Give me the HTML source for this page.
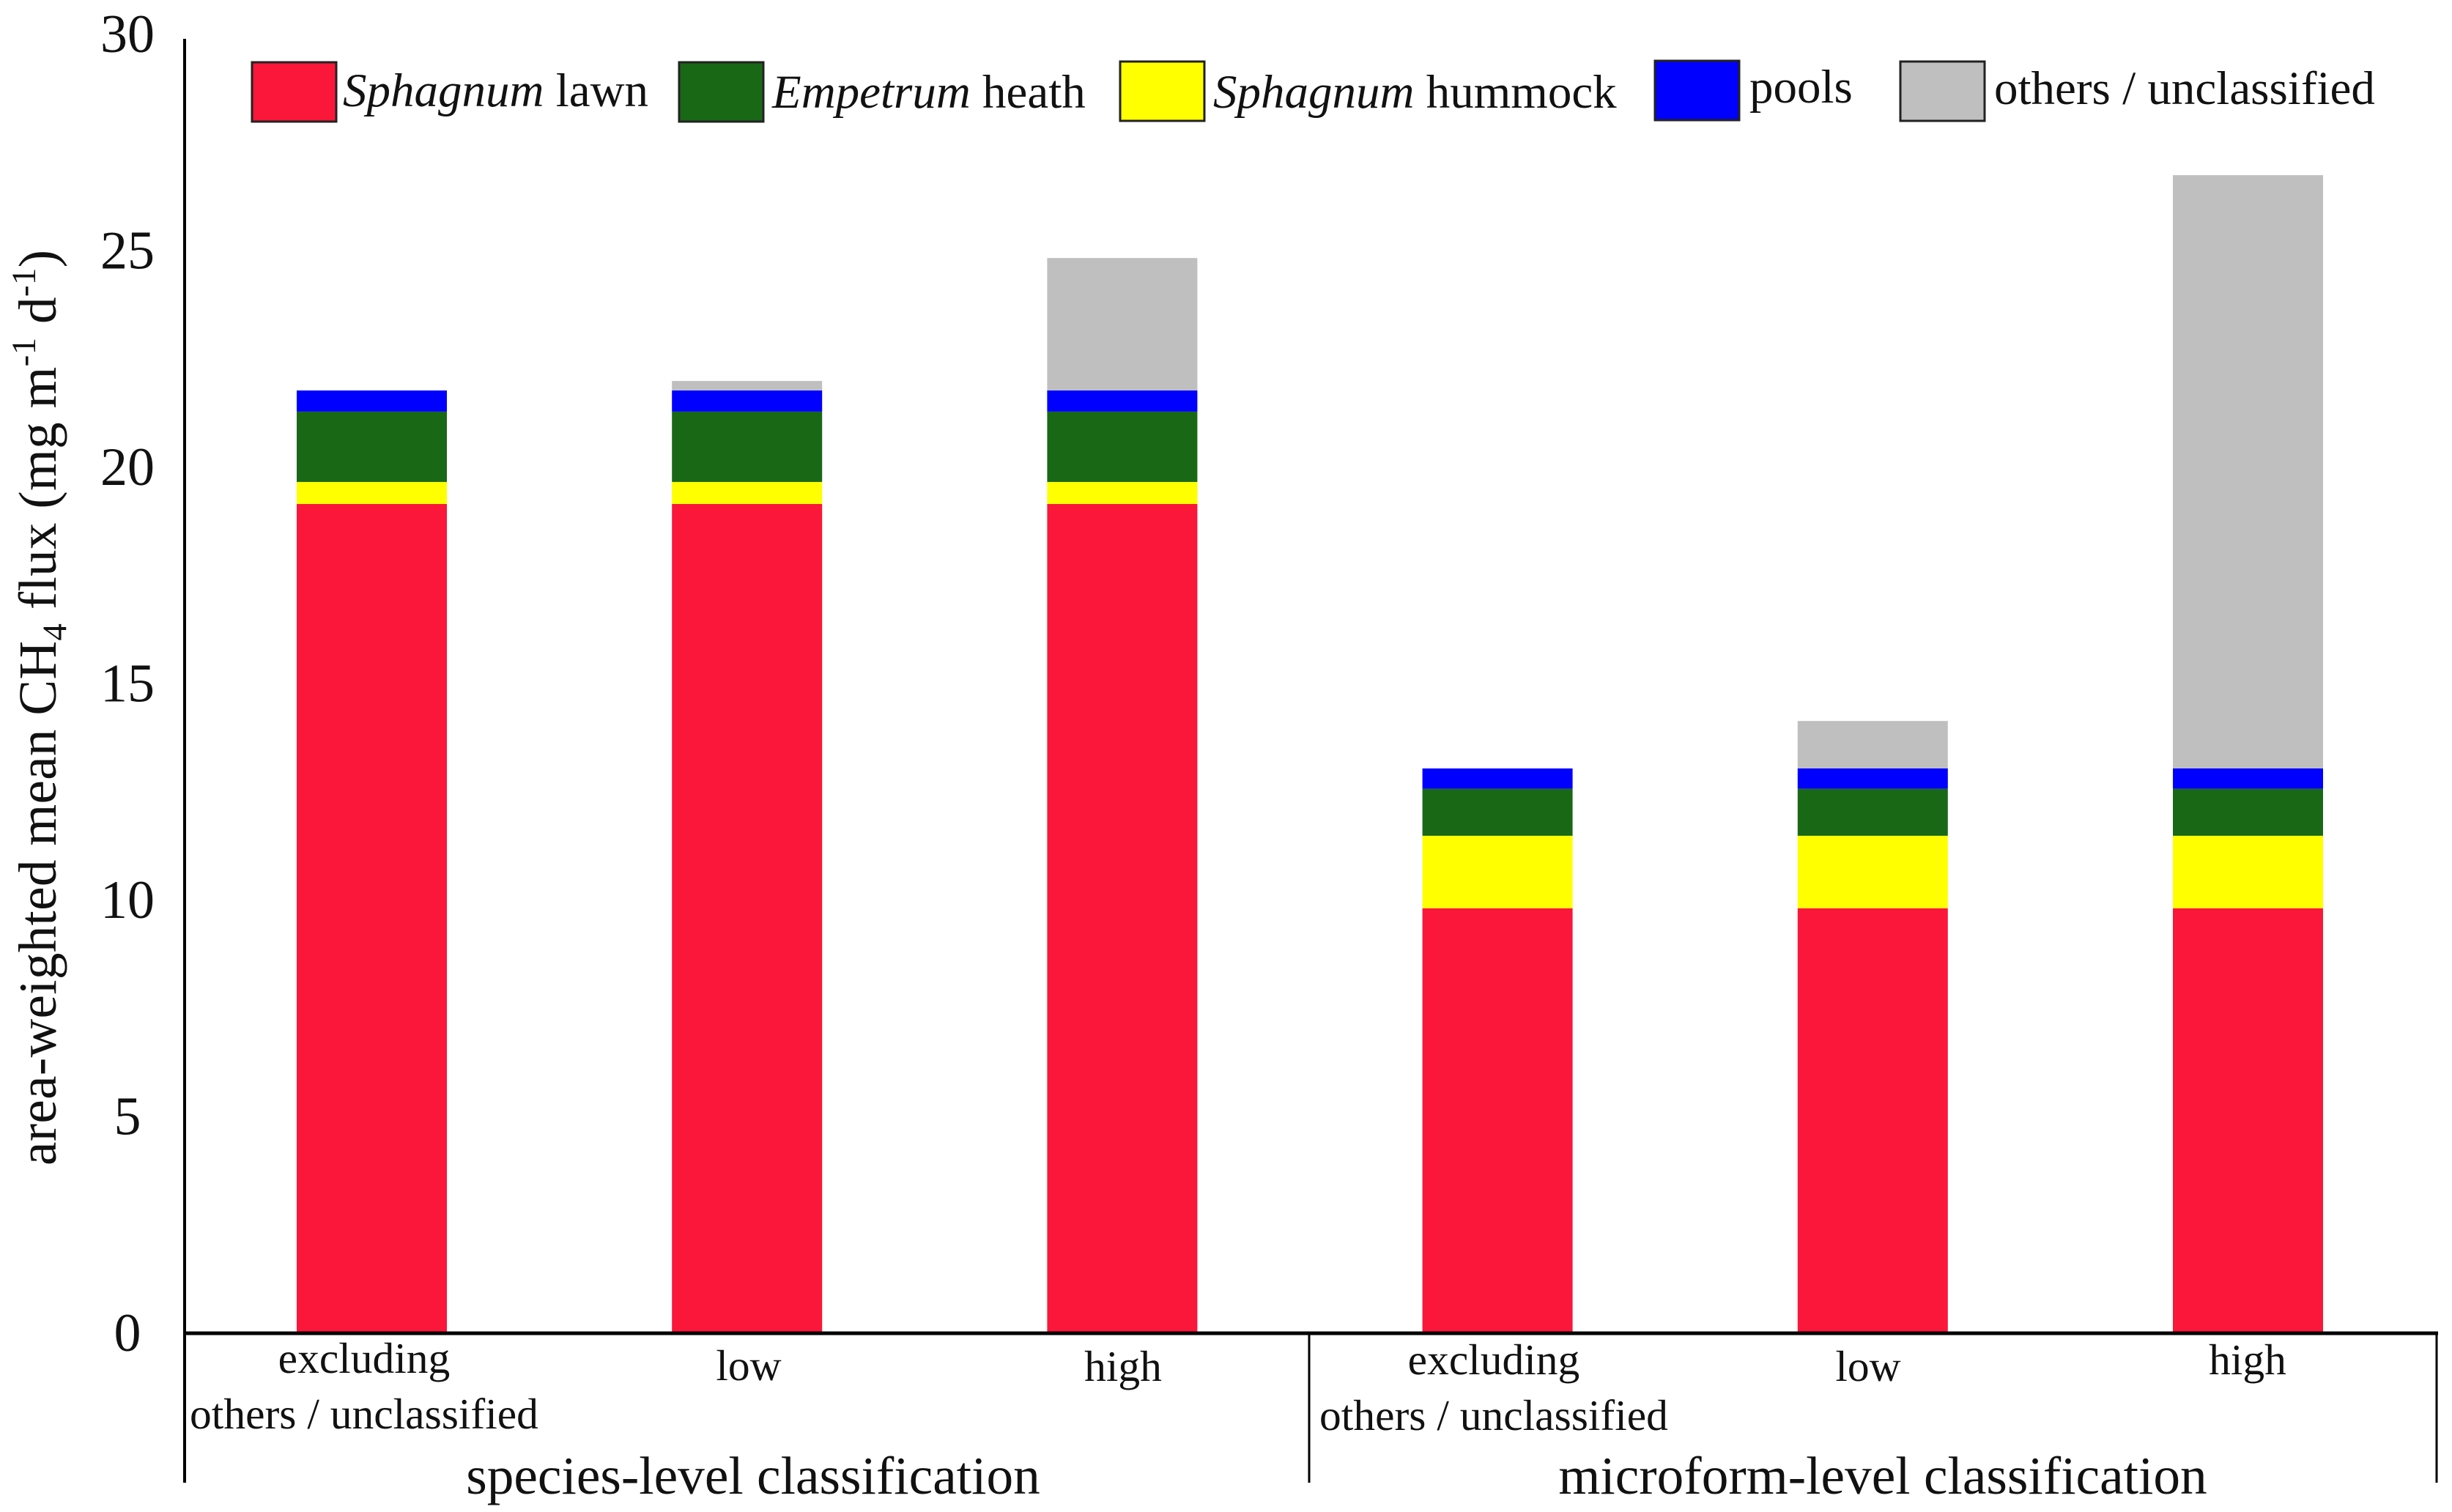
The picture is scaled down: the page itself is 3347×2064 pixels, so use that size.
<!DOCTYPE html>
<html lang="en">
<head>
<meta charset="utf-8">
<title>Area-weighted mean CH4 flux</title>
<style>
html,body{margin:0;padding:0;background:#fff;width:3347px;height:2064px;overflow:hidden}
svg{display:block}
text{font-family:"Liberation Serif",serif;fill:#111}
.leg{font-size:65px}
.cat{font-size:59.5px;text-anchor:middle}
.grp{font-size:73.3px;text-anchor:middle}
.tick{font-size:74px;text-anchor:middle}
.swatch{stroke:#222;stroke-width:3}
</style>
</head>
<body>
<svg id="chart" xmlns="http://www.w3.org/2000/svg" width="3347" height="2064" viewBox="0 0 3347 2064">
  <rect x="0" y="0" width="3347" height="2064" fill="#ffffff"/>
  <g id="bars"></g>
  <g id="y-ticks"></g>

  <line x1="252" y1="53" x2="252" y2="2024" stroke="#000" stroke-width="4"/>
  <line x1="250" y1="1820" x2="3328" y2="1820" stroke="#000" stroke-width="5"/>
  <line x1="1787" y1="1820" x2="1787" y2="2024" stroke="#000" stroke-width="3"/>
  <line x1="3326" y1="1820" x2="3326" y2="2024" stroke="#000" stroke-width="3"/>

  <text transform="translate(76,1591) rotate(-90)" font-size="73" textLength="1250" lengthAdjust="spacing">area-weighted mean CH<tspan font-size="47" dy="14">4</tspan><tspan dy="-14"> flux (mg m</tspan><tspan font-size="47" dy="-28">-1</tspan><tspan dy="28"> d</tspan><tspan font-size="47" dy="-28">-1</tspan><tspan dy="28">)</tspan></text>

  <g>
    <rect class="swatch" x="344" y="85" width="115" height="81" fill="#fa173a"/>
    <text class="leg" x="468" y="145"><tspan font-style="italic">Sphagnum</tspan> lawn</text>
    <rect class="swatch" x="927" y="85" width="115" height="81" fill="#196816"/>
    <text class="leg" x="1054" y="147"><tspan font-style="italic">Empetrum</tspan> heath</text>
    <rect class="swatch" x="1529" y="84" width="115" height="81" fill="#ffff00"/>
    <text class="leg" x="1656" y="147"><tspan font-style="italic">Sphagnum</tspan> hummock</text>
    <rect class="swatch" x="2259" y="83" width="115" height="81" fill="#0000ff"/>
    <text class="leg" x="2388" y="140">pools</text>
    <rect class="swatch" x="2594" y="84" width="115" height="81" fill="#bfbfbf"/>
    <text class="leg" x="2722" y="142">others / unclassified</text>
  </g>

  <g>
    <text class="cat" x="497" y="1874">excluding</text>
    <text class="cat" x="497" y="1950">others / unclassified</text>
    <text class="cat" x="1022" y="1884">low</text>
    <text class="cat" x="1533" y="1885">high</text>
    <text class="cat" x="2039" y="1876">excluding</text>
    <text class="cat" x="2039" y="1952">others / unclassified</text>
    <text class="cat" x="2550" y="1885">low</text>
    <text class="cat" x="3068" y="1876">high</text>
    <text class="grp" x="1028" y="2039">species-level classification</text>
    <text class="grp" x="2570" y="2039">microform-level classification</text>
  </g>
</svg>
<script>
const categories = ["species-excluding", "species-low", "species-high", "microform-excluding", "microform-low", "microform-high"];
const sphagnumLawn = [19.22, 19.22, 19.22, 9.85, 9.85, 9.85];
const sphagnumHummock = [0.51, 0.51, 0.51, 1.68, 1.68, 1.68];
const empetrumHeath = [1.63, 1.63, 1.63, 1.09, 1.09, 1.09];
const pools = [0.49, 0.49, 0.49, 0.47, 0.47, 0.47];
const others = [0, 0.22, 3.07, 0, 1.10, 13.75];
const yTicks = [0, 5, 10, 15, 20, 25, 30];

const svgNS = "http://www.w3.org/2000/svg";
const yOf = function (v) { return 1820 - v * 58.9; };
const xOf = function (i) { return 251.4 + 512.2 * (i + 0.5); };
const tickBaseline = function (v) { return 1844 - v * 59.1; };
const barWidth = 205;

const stack = [
  { key: "sphagnum-lawn", color: "#fa173a", values: sphagnumLawn },
  { key: "sphagnum-hummock", color: "#ffff00", values: sphagnumHummock },
  { key: "empetrum-heath", color: "#196816", values: empetrumHeath },
  { key: "pools", color: "#0000ff", values: pools },
  { key: "others-unclassified", color: "#bfbfbf", values: others }
];

const barsGroup = document.getElementById("bars");
categories.forEach(function (cat, i) {
  let running = 0;
  stack.forEach(function (s) {
    const v = s.values[i];
    if (v <= 0) { return; }
    const rect = document.createElementNS(svgNS, "rect");
    rect.setAttribute("x", xOf(i) - barWidth / 2);
    rect.setAttribute("y", yOf(running + v));
    rect.setAttribute("width", barWidth);
    rect.setAttribute("height", yOf(running) - yOf(running + v));
    rect.setAttribute("fill", s.color);
    
    
    barsGroup.appendChild(rect);
    running += v;
  });
});

const ticksGroup = document.getElementById("y-ticks");
yTicks.forEach(function (t) {
  const label = document.createElementNS(svgNS, "text");
  label.setAttribute("class", "tick");
  label.setAttribute("x", 174);
  label.setAttribute("y", tickBaseline(t));
  label.textContent = String(t);
  
  
  ticksGroup.appendChild(label);
});
</script>
</body>
</html>
